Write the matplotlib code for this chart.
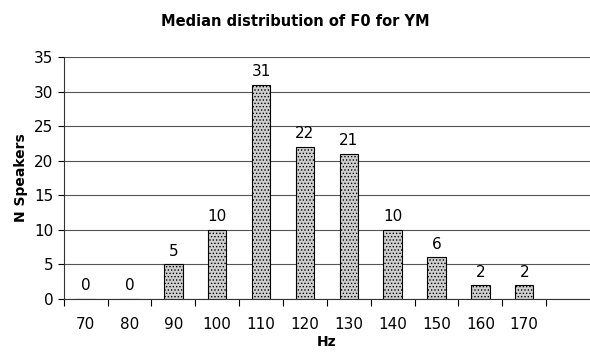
import matplotlib.pyplot as plt
import numpy as np

# data
hz_labels = ['70', '80', '90', '100', '110', '120', '130', '140', '150', '160', '170', '']
n_speakers = [0, 0, 5, 10, 31, 22, 21, 10, 6, 2, 2, None]

plt.rcParams['hatch.color'] = '#9a9a9a'
plt.rcParams['hatch.linewidth'] = 0.6

fig = plt.figure(figsize=(5.9, 3.55), dpi=100)
ax = fig.add_axes([0.108, 0.158, 0.892, 0.681])

x = np.arange(len(hz_labels))
vals = [v if v is not None else 0 for v in n_speakers]
shown = [i for i, v in enumerate(n_speakers) if v is not None]

ax.bar(x[shown], [vals[i] for i in shown], width=0.42, color='#cfcfcf',
       edgecolor='black', linewidth=0.8, hatch='.....', zorder=3)

for i in shown:
    ax.text(x[i], vals[i] + 0.8, str(n_speakers[i]), ha='center', va='bottom',
            fontsize=11, color='black')

ax.set_xlim(-0.5, len(hz_labels) - 0.5)
ax.set_ylim(0, 35)
ax.set_yticks(range(0, 36, 5))
ax.yaxis.grid(True, color='#555555', linewidth=0.8, zorder=0)

# category labels at centres, tick marks at the boundaries
ax.set_xticks(np.arange(-0.5, len(hz_labels) - 0.5, 1))
ax.set_xticklabels([])
ax.set_xticks(x, minor=True)
ax.set_xticklabels(hz_labels, minor=True)
ax.tick_params(axis='x', which='minor', length=0, pad=13, labelsize=11)
ax.tick_params(axis='x', which='major', length=5, direction='out')
ax.tick_params(axis='y', labelsize=11, length=4)

for s in ['top', 'right']:
    ax.spines[s].set_visible(False)
ax.spines['left'].set_color('#333333')
ax.spines['bottom'].set_color('#333333')

ax.set_xlabel('Hz', fontsize=10, fontweight='bold', labelpad=2)
ax.set_ylabel('N Speakers', fontsize=10, fontweight='bold', labelpad=4)
fig.suptitle('Median distribution of F0 for YM', fontsize=10.5, fontweight='bold', y=0.96)

fig.savefig('out.png', dpi=100)
